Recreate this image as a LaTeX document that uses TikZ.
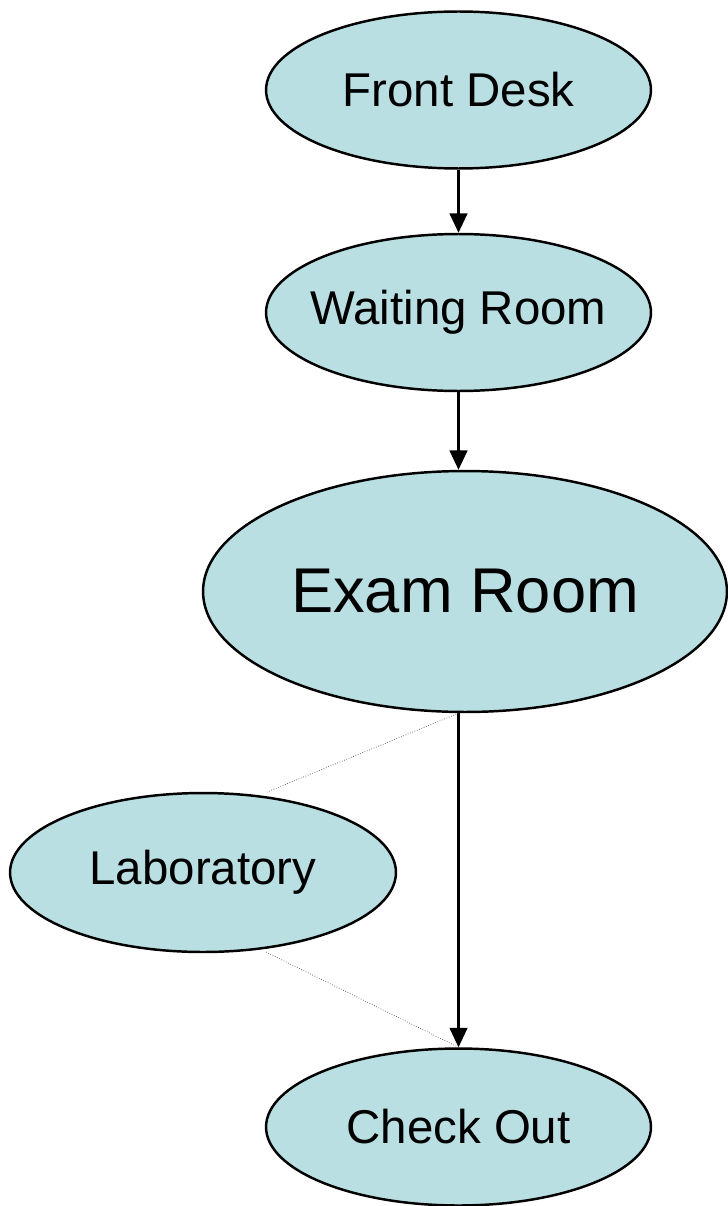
\documentclass[tikz,border=0pt]{standalone}
\usepackage{fontspec}
\setmainfont{Liberation Sans}
\usetikzlibrary{arrows.meta,shapes.geometric}
\definecolor{roomfill}{RGB}{185,223,227}
\tikzset{
    %Define standard arrow tip
    >={Triangle[length=11pt,width=10pt]},
    %Define style for rooms
    room/.style={
           ellipse,
           draw=black, line width=1.4pt,
           fill=roomfill,
           inner xsep=-0.6cm, inner ysep=0pt,
           minimum width=7.7cm,
           minimum height=3.14cm,
           font=\fontsize{27}{31}\selectfont},
    bigroom/.style={
           room,
           minimum width=10.48cm,
           minimum height=4.82cm,
           font=\fontsize{36}{42}\selectfont},
    % Define arrow style
    pil/.style={
           ->,
           line width=1.4pt},
    side/.style={
           densely dotted,
           line width=0.4pt,
           draw=black!70}
}
\begin{document}
\begin{tikzpicture}[x=0.02cm, y=-0.02cm]
\useasboundingbox (0,0) rectangle (727,1206);
\node[room] (front) at (458.5,90) {Front Desk};
\node[room] (waiting) at (458.5,312.5) {Waiting Room};
%exam room, larger than the rest
\node[bigroom] (exam) at (465,591.5) {Exam Room};
\node[room, minimum width=7.72cm, minimum height=3.18cm] (lab) at (203,872.5) {Laboratory};
\node[room] (checkout) at (458.5,1127) {Check Out};
%free ends of the dotted links
\coordinate (labtop) at (267,792);
\coordinate (labbot) at (266,952);
\draw[pil] (front.south) -- (waiting.north);
\draw[pil] (waiting.south) -- (waiting.south |- exam.north);
\draw[pil] (checkout.north |- exam.south) -- (checkout.north);
\draw[side] (checkout.north |- exam.south) -- (labtop);
\draw[side] (labbot) -- (checkout.north);
\end{tikzpicture}
\end{document}
